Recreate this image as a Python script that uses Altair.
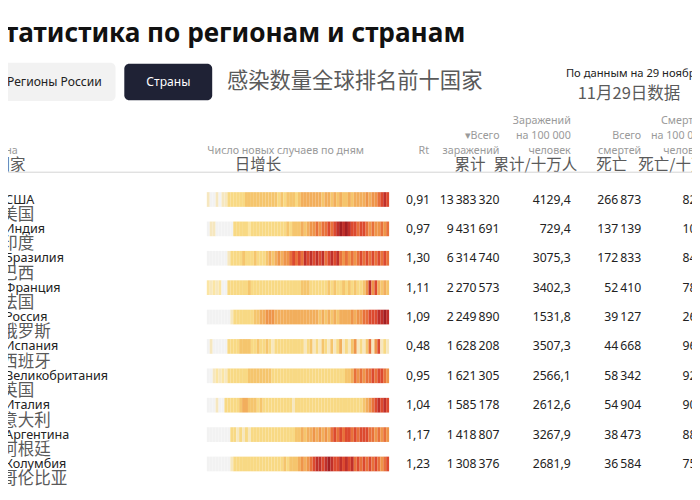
import altair as alt
import pandas as pd

# ---------------- data ----------------
countries_ru = ["США", "Индия", "Бразилия", "Франция", "Россия", "Испания",
                "Великобритания", "Италия", "Аргентина", "Колумбия"]
countries_zh = ["美国", "印度", "巴西", "法国", "俄罗斯", "西班牙",
                "英国", "意大利", "阿根廷", "哥伦比亚"]
rt_values = [0.91, 0.97, 1.30, 1.11, 1.09, 0.48, 0.95, 1.04, 1.17, 1.23]
total_cases = [13383320, 9431691, 6314740, 2270573, 2249890,
               1628208, 1621305, 1585178, 1418807, 1308376]
cases_per_100k = [4129.4, 729.4, 3075.3, 3402.3, 1531.8,
                  3507.3, 2566.1, 2612.6, 3267.9, 2681.9]
total_deaths = [266873, 137139, 172833, 52410, 39127,
                44668, 58342, 54904, 38473, 36584]
deaths_per_100k = [82.3, 10.6, 84.2, 78.5, 26.6, 96.2, 92.3, 90.5, 88.6, 75.0]

# daily new-case intensity strips (one char per period)
# 0 = no cases, a = faint, 1..9 = light yellow .. dark red, w = gap
daily_strips = [
    "a00a0aa" "222222" "3333333333" "3232" "33323" "444444" "43443434" "33434" "444545" "56" "787",
    "0aa000000" "22222122222222222" "23233" "3434" "55656" "6767" "89898" "77677" "6565" "5656",
    "0000000" "a222232223222" "3434545" "5676768" "78787867878" "656565" "67676767676",
    "1a1a100" "22222223222" "22222222222" "22233322222" "23232232323" "223" "58574343",
    "00000000a" "2222222" "3344" "555" "44444444" "444444434" "343434" "444545" "5667" "778898",
    "0a00000" "2222" "33332" "232232a22" "2222222" "2a23a2a32a3a24a2a35a2a36a57a2a",
    "00a1a1a" "2222222" "3333333" "3222222222222222222222222" "2334" "65656" "6767" "765",
    "000a002" "2222" "3443" "33232222222222" "a2222222222222222222222" "234" "56" "78787",
    "00000000" "22a2a2a22" "2222222222222" "33434" "4545454" "676767" "76767776" "656565",
    "00000000a" "2222222222222222" "232333" "45456" "78878987" "787878" "676767" "676567",
]
levels = ["0", "a", "1", "2", "3", "4", "5", "6", "7", "8", "9", "w"]
level_colors = ["#f2f2f2", "#f6e7bf", "#fbe5a4", "#f8d984", "#f5c56d", "#f2ae5c",
                "#ee954a", "#e8713b", "#dc4a2f", "#c0302a", "#a31f22", "#ffffff"]

table = pd.DataFrame({
    "ru": countries_ru, "zh": countries_zh, "rt": rt_values,
    "cases": total_cases, "cases100k": cases_per_100k,
    "deaths": total_deaths, "deaths100k": deaths_per_100k,
})
strip_rows = []
for name, s in zip(countries_ru, daily_strips):
    for k, ch in enumerate(s):
        strip_rows.append({"ru": name, "start": k, "end": k + 1, "level": ch})
strips = pd.DataFrame(strip_rows)

# ---------------- layout ----------------
W, H = 684, 480
SX, SY = W / 700, H / 500
FS = 0.97


def px(v):
    return round(v * SX, 1)


def py(v):
    return round(v * SY, 1)


LAT = "Noto Sans"
CJK = "Noto Sans CJK SC"
DARK = "#222222"
GREY = "#9a9a9a"
CGREY = "#5a5a5a"

step = 30.61 * SY
c0 = py(199.5)
Y = alt.Y("ru:N", sort=countries_ru, axis=None,
          scale=alt.Scale(type="band", range=[c0 - step / 2, c0 - step / 2 + 10 * step],
                          paddingInner=0.5, paddingOuter=0.25))


def label(txt, x, y, size, color, align="left", weight="normal", font=LAT,
          baseline="middle"):
    return alt.Chart(pd.DataFrame({"t": [txt]})).mark_text(
        align=align, baseline=baseline, fontSize=round(size * FS, 1), color=color,
        fontWeight=weight, font=font
    ).encode(x=alt.value(px(x)), y=alt.value(py(y)), text="t:N")


def box(x1, x2, y1, y2, color):
    return alt.Chart(pd.DataFrame({"t": [0]})).mark_rect(
        color=color, cornerRadius=5
    ).encode(x=alt.value(px(x1)), x2=alt.value(px(x2)),
             y=alt.value(py(y1)), y2=alt.value(py(y2)))


layers = []
# title block
layers.append(label("Статистика по регионам и странам", 468, 35, 27, "#111111",
                    align="right", weight="bold", baseline="alphabetic"))
layers.append(box(-12, 110, 57, 97, "#f2f2f2"))
layers.append(box(119, 209, 58, 96, "#1f2235"))
layers.append(label("Регионы России", -1, 77, 12.5, DARK))
layers.append(label("Страны", 164, 77, 12.5, "#ffffff", align="center"))
layers.append(label("感染数量全球排名前十国家", 224, 77, 22, CGREY, font=CJK))
layers.append(label("По данным на 29 ноября", 571, 69, 11.5, DARK))
layers.append(label("11月29日数据", 583, 90, 17, CGREY, font=CJK))

# column headers
layers.append(label("Страна", 10, 149, 11, GREY, align="right"))
layers.append(label("国家", 18, 164, 16, CGREY, align="right", font=CJK))
layers.append(label("Число новых случаев по дням", 204, 149, 11, GREY))
layers.append(label("日增长", 232, 163, 16, CGREY, font=CJK))
layers.append(label("Rt", 431, 149, 11, GREY, align="right"))
layers.append(label("▾Всего", 503, 133, 11, GREY, align="right"))
layers.append(label("заражений", 503, 149, 11, GREY, align="right"))
layers.append(label("Заражений", 576, 118, 11, GREY, align="right"))
layers.append(label("на 100 000", 576, 133, 11, GREY, align="right"))
layers.append(label("человек", 576, 149, 11, GREY, align="right"))
layers.append(label("Всего", 648, 133, 11, GREY, align="right"))
layers.append(label("смертей", 648, 149, 11, GREY, align="right"))
layers.append(label("Смертей", 714, 118, 11, GREY, align="right"))
layers.append(label("на 100 000", 714, 133, 11, GREY, align="right"))
layers.append(label("человек", 714, 149, 11, GREY, align="right"))
layers.append(label("累计", 457, 163, 16, CGREY, font=CJK))
layers.append(label("累计/十万人", 497, 163, 16, CGREY, font=CJK))
layers.append(label("死亡", 602, 163, 16, CGREY, font=CJK))
layers.append(label("死亡/十万人", 645, 163, 16, CGREY, font=CJK))
layers.append(
    alt.Chart(pd.DataFrame({"t": [0]})).mark_rule(color="#d4d4d4", strokeWidth=1)
    .encode(x=alt.value(-8), x2=alt.value(W + 8), y=alt.value(py(171)))
)

# heat strips
layers.append(
    alt.Chart(strips).mark_rect().encode(
        x=alt.X("start:Q", axis=None,
                scale=alt.Scale(domain=[0, 62], range=[px(203.5), px(390)],
                                nice=False, zero=False)),
        x2="end:Q",
        y=Y,
        color=alt.Color("level:N", legend=None,
                        scale=alt.Scale(domain=levels, range=level_colors)),
    )
)

# row labels
base = alt.Chart(table)
layers.append(base.mark_text(align="left", fontSize=12.6, color=DARK, font=LAT)
              .encode(x=alt.value(px(-3)), y=Y, text="ru:N"))
layers.append(base.mark_text(align="left", fontSize=16.5, color=CGREY, font=CJK,
                             dy=round(16 * SY, 1))
              .encode(x=alt.value(px(-7)), y=Y, text="zh:N"))

# numeric columns
num = dict(align="right", fontSize=12.2, color=DARK, font=LAT)
layers.append(base.mark_text(**num).encode(
    x=alt.value(px(432)), y=Y, text=alt.Text("rt:Q", format=".2f")))
layers.append(base.mark_text(**num).encode(
    x=alt.value(px(503)), y=Y, text=alt.Text("cases:Q", format=",.0f")))
layers.append(base.mark_text(**num).encode(
    x=alt.value(px(576)), y=Y, text=alt.Text("cases100k:Q", format=".1f")))
layers.append(base.mark_text(**num).encode(
    x=alt.value(px(648)), y=Y, text=alt.Text("deaths:Q", format=",.0f")))
layers.append(base.mark_text(**num).encode(
    x=alt.value(px(715)), y=Y, text=alt.Text("deaths100k:Q", format=".1f")))

chart = alt.layer(*layers).properties(
    width=W, height=H,
    autosize=alt.AutoSizeParams(type="none"),
    padding=0,
).configure(
    locale={"number": {"decimal": ",", "thousands": "\u2009",
                       "grouping": [3], "currency": ["", ""]}},
).configure_view(strokeWidth=0)

chart.save("out.html", embed_options={"renderer": "svg", "actions": False})
